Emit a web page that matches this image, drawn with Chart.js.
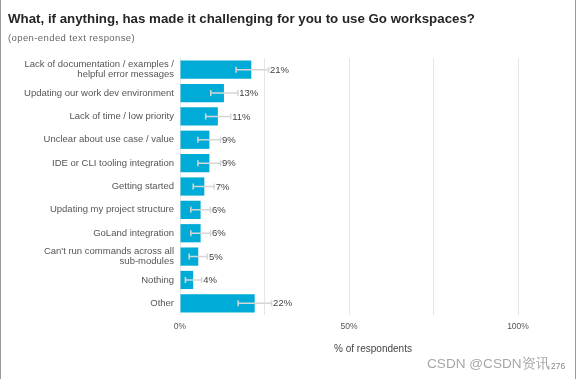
<!DOCTYPE html>
<html>
<head>
<meta charset="utf-8">
<script src="https://cdn.jsdelivr.net/npm/chart.js@4/dist/chart.umd.min.js"></script>
<style>
html,body{margin:0;padding:0;background:#fff;}
#wrap{width:576px;height:379px;position:relative;}
</style>
</head>
<body>
<div id="wrap"><canvas id="c" width="576" height="379"></canvas></div>
<script>
const categories = [
  ["Lack of documentation / examples /", "helpful error messages"],
  "Updating our work dev environment",
  "Lack of time / low priority",
  "Unclear about use case / value",
  "IDE or CLI tooling integration",
  "Getting started",
  "Updating my project structure",
  "GoLand integration",
  ["Can't run commands across all", "sub-modules"],
  "Nothing",
  "Other"
];
const values = [21.1, 13.0, 11.2, 8.7, 8.7, 7.2, 6.1, 6.1, 5.4, 3.9, 22.1];
const errLow = [16.6, 9.1, 7.6, 5.3, 5.3, 3.9, 3.2, 3.2, 2.7, 1.6, 17.2];
const errHigh = [26.2, 17.1, 15.0, 12.0, 12.0, 10.1, 9.0, 9.0, 8.1, 6.4, 27.1];
const xTicks = [0, 25, 50, 75, 100];
const xTickLabels = {0: "0%", 50: "50%", 100: "100%"};

const FONT = "'Liberation Sans', Arial, sans-serif";

const decor = {
  id: 'decor',
  beforeDraw(chart) {
    const ctx = chart.ctx;
    ctx.save();
    ctx.fillStyle = '#fff';
    ctx.fillRect(0, 0, chart.width, chart.height);
    ctx.strokeStyle = '#9a9a9a';
    ctx.lineWidth = 1;
    ctx.beginPath();
    ctx.moveTo(0.5, 0); ctx.lineTo(0.5, chart.height);
    ctx.moveTo(575.5, 0); ctx.lineTo(575.5, chart.height);
    ctx.stroke();
    ctx.restore();
  },
  afterDraw(chart) {
    const ctx = chart.ctx;
    const xs = chart.scales.x, ys = chart.scales.y;
    ctx.save();
    // error bars
    ctx.strokeStyle = '#d6d6d6';
    ctx.lineWidth = 1.5;
    values.forEach((v, i) => {
      const y = ys.getPixelForValue(i);
      const x1 = xs.getPixelForValue(errLow[i]);
      const x2 = xs.getPixelForValue(errHigh[i]);
      ctx.beginPath();
      ctx.moveTo(x1, y); ctx.lineTo(x2, y);
      ctx.moveTo(x1, y - 3); ctx.lineTo(x1, y + 3);
      ctx.moveTo(x2, y - 3); ctx.lineTo(x2, y + 3);
      ctx.stroke();
    });
    // value labels
    ctx.fillStyle = '#444';
    ctx.font = "9.5px " + FONT;
    ctx.textBaseline = 'middle';
    ctx.textAlign = 'left';
    values.forEach((v, i) => {
      const y = ys.getPixelForValue(i);
      const x2 = xs.getPixelForValue(errHigh[i]);
      ctx.fillText(Math.round(v) + '%', x2 + 1.5, y + 0.5);
    });
    // title & subtitle
    ctx.fillStyle = '#262626';
    ctx.font = "bold 13.3px " + FONT;
    ctx.textBaseline = 'middle';
    ctx.fillText("What, if anything, has made it challenging for you to use Go workspaces?", 8, 19.5);
    ctx.fillStyle = '#666';
    ctx.font = "9.5px " + FONT;
    if ('letterSpacing' in ctx) ctx.letterSpacing = '0.4px';
    ctx.fillText("(open-ended text response)", 8, 38.5);
    if ('letterSpacing' in ctx) ctx.letterSpacing = '0px';
    // axis title
    ctx.fillStyle = '#444';
    ctx.font = "10px " + FONT;
    ctx.textAlign = 'center';
    ctx.fillText("% of respondents", 373, 349.5);
    // page number & watermark
    ctx.fillStyle = '#888';
    ctx.font = "8.5px " + FONT;
    ctx.textAlign = 'left';
    ctx.fillText("276", 551, 367);
    ctx.fillStyle = 'rgba(150,150,150,0.85)';
    ctx.font = "13.6px " + FONT;
    ctx.fillText("CSDN @CSDN资讯", 427, 364);
    ctx.restore();
  }
};

new Chart(document.getElementById('c'), {
  type: 'bar',
  data: {
    labels: categories,
    datasets: [{
      data: values,
      backgroundColor: '#00ACD7',
      borderWidth: 0,
      categoryPercentage: 0.78,
      barPercentage: 1.0
    }]
  },
  options: {
    indexAxis: 'y',
    responsive: false,
    animation: false,
    events: [],
    layout: { padding: { top: 58, right: 58, bottom: 0, left: 0 } },
    plugins: { legend: { display: false }, tooltip: { enabled: false }, title: { display: false } },
    scales: {
      x: {
        min: 0, max: 100,
        afterBuildTicks(scale) { scale.ticks = xTicks.map(v => ({ value: v })); },
        afterFit(scale) { scale.height = 379 - 315; },
        grid: { color: '#e6e6e6', lineWidth: 1, drawTicks: false },
        border: { display: false },
        ticks: {
          padding: 7,
          color: '#555',
          font: { family: FONT, size: 8.5 },
          maxRotation: 0,
          autoSkip: false,
          callback: (v) => xTickLabels[v] !== undefined ? xTickLabels[v] : ''
        }
      },
      y: {
        afterFit(scale) { scale.width = 180; },
        grid: { display: false, drawTicks: false },
        border: { display: false },
        ticks: {
          padding: 6,
          color: '#555',
          font: { family: FONT, size: 9.5, lineHeight: 1.08 },
          autoSkip: false
        }
      }
    }
  },
  plugins: [decor]
});
</script>
</body>
</html>
